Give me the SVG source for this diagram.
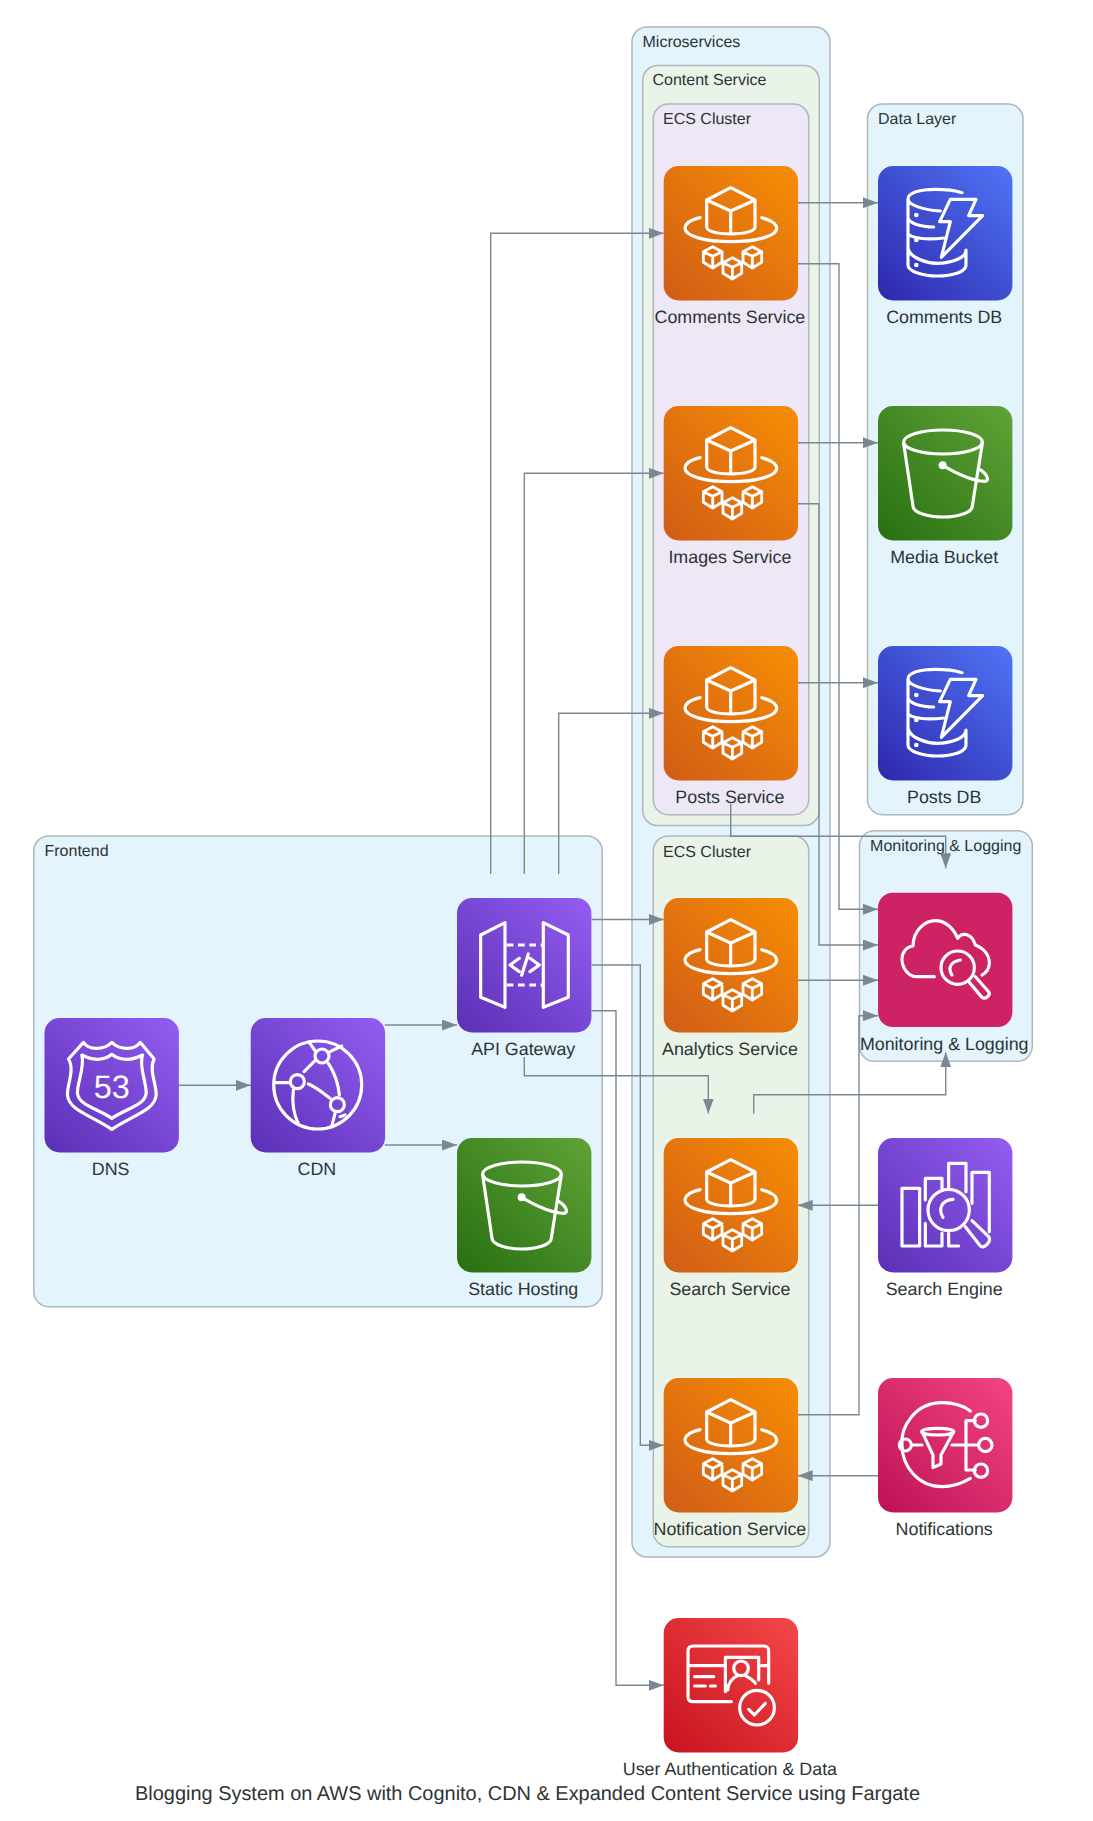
<svg xmlns="http://www.w3.org/2000/svg" width="1093" height="1821" viewBox="0 0 1093 1821">
<style>
text{font-family:"Liberation Sans",Arial,sans-serif;fill:#2D3436;text-rendering:geometricPrecision}
.cl{stroke:#AEB6BE;stroke-width:1.5}
.blue{fill:#E3F4FD}.green{fill:#E9F3E7}.lav{fill:#EDE7F6}
.cll{font-size:16px}
.nl{font-size:17.85px;text-anchor:middle}
.t{font-size:19.94px;text-anchor:middle}
.e{fill:none;stroke:#7B8894;stroke-width:1.4;marker-end:url(#a)}
.i{fill:none;stroke:#fff;stroke-width:9.5;stroke-linejoin:round;stroke-linecap:round}
.d{fill:#fff;stroke:none}
.n53{font-size:32.5px;text-anchor:middle;fill:#fff}
</style>
<defs>
<marker id="a" markerUnits="userSpaceOnUse" markerWidth="15" markerHeight="11" refX="15" refY="5.5" orient="auto"><path d="M0 0L15 5.5L0 11z" fill="#7B8894"/></marker>
<linearGradient id="g-orange" x1="0" y1="1" x2="1" y2="0"><stop offset="0" stop-color="#D05C17"/><stop offset="1" stop-color="#F78E04"/></linearGradient>
<linearGradient id="g-blue" x1="0" y1="1" x2="1" y2="0"><stop offset="0" stop-color="#2E27AD"/><stop offset="1" stop-color="#4F75F5"/></linearGradient>
<linearGradient id="g-green" x1="0" y1="1" x2="1" y2="0"><stop offset="0" stop-color="#277012"/><stop offset="1" stop-color="#60A337"/></linearGradient>
<linearGradient id="g-purple" x1="0" y1="1" x2="1" y2="0"><stop offset="0" stop-color="#5A30B5"/><stop offset="1" stop-color="#945DF2"/></linearGradient>
<linearGradient id="g-pink" x1="0" y1="1" x2="1" y2="0"><stop offset="0" stop-color="#BC1356"/><stop offset="1" stop-color="#F34482"/></linearGradient>
<linearGradient id="g-red" x1="0" y1="1" x2="1" y2="0"><stop offset="0" stop-color="#C7131F"/><stop offset="1" stop-color="#F54749"/></linearGradient>
<rect id="box" width="134.4" height="134.4" rx="15"/>
<g id="i-fargate" class="i" transform="scale(.3333) translate(-41,-48)">
<path d="M242 113L170 150V232Q175 250 242 252Q310 250 315 232V150ZM170 150L242 183L315 150M242 183V252"/>
<path d="M150 203C120 210 105 222 105 235C105 258 165 275 242 275C320 275 380 258 380 235C380 222 362 210 335 203"/>
<path stroke-width="8.5" d="M188 290L216 305V337L188 354L160 337V305ZM160 305L188 319L216 305M188 319V354"/>
<path stroke-width="8.5" d="M247 323L275 338V370L247 387L219 370V338ZM219 338L247 352L275 338M247 352V387"/>
<path stroke-width="8.5" d="M307 290L335 305V337L307 354L279 337V305ZM279 305L307 319L335 305M307 319V354"/>
</g>
<g id="i-dynamo" class="i" transform="scale(.3333) translate(-53,-48)">
<path d="M305 128C280 120 250 118 225 118C180 118 143 128 143 147C143 165 190 180 240 183M143 147V295M143 205C148 220 180 230 220 231M143 250C148 265 200 270 250 264M143 295V345C143 365 190 378 230 378C280 378 317 365 317 345V300M143 295C150 325 200 340 230 340C270 340 317 325 317 300"/>
<path d="M270 148H347L325 197H367L243 322L270 215H238Z"/>
<circle class="d" cx="168" cy="195" r="7"/><circle class="d" cx="168" cy="270" r="7"/><circle class="d" cx="168" cy="345" r="7"/>
</g>
<g id="i-bucket" class="i" transform="scale(.3333)">
<ellipse cx="195" cy="108" rx="118" ry="36"/>
<path d="M77 112L105 300C105 320 150 333 195 333C240 333 283 320 283 300L313 112"/>
<path d="M194 178C240 205 290 225 320 226C335 226 330 205 305 190"/>
<circle class="d" cx="194" cy="178" r="12"/>
</g>
<g id="i-monitor" class="i" transform="scale(.3333) translate(-53,-38)">
<path d="M222 290H170C145 290 125 265 125 238C125 215 140 200 158 198C158 150 195 122 225 122C255 122 280 145 292 175C305 155 335 160 345 195C370 205 387 225 387 250C387 265 378 278 365 285"/>
<circle cx="292" cy="263" r="50"/>
<path d="M275 285C262 265 270 245 300 240"/>
<path d="M327 307L365 352C375 360 392 345 385 335L345 290"/>
</g>
<g id="i-search" class="i" transform="scale(.3333) translate(-53,-54)">
<rect x="125" y="205" width="53" height="173"/>
<path d="M195 310V378H245V340M195 240V175H245V205M265 205V130H317V215M265 340V378H295M335 250V157H387V335"/>
<circle cx="265" cy="270" r="62"/>
<path d="M248 292C232 265 245 240 278 238"/>
<path d="M315 320L360 378C370 388 395 365 385 350L335 302"/>
</g>
<g id="i-sns" class="i" transform="scale(.3333) translate(-53,-24)">
<path d="M330 123C300 100 265 98 245 98C165 98 120 170 125 225C125 290 175 350 245 350C275 350 305 340 330 325"/>
<circle cx="135" cy="225" r="18"/>
<path d="M155 225H185M275 225H355M345 152H317V300H345"/>
<ellipse cx="232" cy="185" rx="48" ry="10"/>
<path d="M185 185L218 255V293L242 282V255L280 185"/>
<circle cx="362" cy="152" r="20"/><circle cx="375" cy="225" r="20"/><circle cx="362" cy="302" r="20"/>
</g>
<g id="i-cognito" class="i" transform="scale(.3333) translate(-40,-24)">
<path d="M243 275H130C118 275 113 268 113 260V122C113 112 120 108 130 108H340C350 108 355 115 355 122V220M113 167H220M333 167H355M133 200H190M133 228H165M180 228H195M225 245V142H325V210"/>
<circle cx="272" cy="175" r="22"/>
<path d="M232 240C235 210 255 200 262 197M285 197C300 205 310 212 315 220"/>
<circle cx="320" cy="293" r="52"/>
<path d="M295 298L312 315L345 280"/>
</g>
<g id="i-route53" class="i" transform="scale(.3333) translate(-43,-24)">
<path d="M115 147L160 97C175 120 220 122 245 97C270 122 315 120 330 97L372 147C355 180 380 225 378 255C375 300 310 315 245 358C180 315 115 300 112 255C110 225 135 180 115 147Z"/>
<path d="M155 135C190 155 225 150 245 133C265 150 300 155 337 135C325 170 350 220 348 250C345 285 290 295 245 325C200 295 145 285 142 250C140 220 165 170 155 135Z"/>
</g>
<g id="i-cdn" class="i" transform="scale(.3333) translate(-662,-24)">
<circle cx="863" cy="225" r="132"/>
<circle cx="876" cy="138" r="21"/><circle cx="802" cy="215" r="21"/><circle cx="922" cy="284" r="21"/>
<path d="M822 185L855 152M895 160C915 190 925 225 928 255M835 222C860 232 880 250 900 265M735 218H780M790 240C785 280 790 310 805 342M838 98L855 122M900 125L935 108M915 310L905 350M930 320L945 315"/>
</g>
<g id="i-api" class="i" transform="scale(.3333) translate(-21,-24)">
<path d="M165 98L92 135V322L165 352ZM280 98L355 135V322L280 352Z"/>
<path stroke-linecap="butt" stroke-dasharray="20 14" d="M170 165H278M170 285H278"/>
<path d="M208 205L180 225L208 245M240 205L268 225L240 245M235 192L215 256"/>
</g>
</defs>
<rect width="1093" height="1821" fill="#fff"/>
<g id="clusters">
<g id="cluster-microservices"><rect class="cl blue" x="632" y="27" width="198" height="1530" rx="15"/><text class="cll" x="642.5" y="46.7">Microservices</text></g>
<g id="cluster-content"><rect class="cl green" x="642.7" y="65.5" width="176.6" height="760" rx="15"/><text class="cll" x="652.5" y="85.3">Content Service</text></g>
<g id="cluster-ecs1"><rect class="cl lav" x="653.3" y="104" width="155.4" height="710.7" rx="15"/><text class="cll" x="663" y="124.3">ECS Cluster</text></g>
<g id="cluster-ecs2"><rect class="cl green" x="653.3" y="836" width="155.4" height="710.7" rx="15"/><text class="cll" x="663" y="856.7">ECS Cluster</text></g>
<g id="cluster-data"><rect class="cl blue" x="867.5" y="104" width="155.5" height="710.7" rx="15"/><text class="cll" x="878" y="124.3">Data Layer</text></g>
<g id="cluster-monitoring"><rect class="cl blue" x="859.5" y="830.8" width="172.8" height="230.5" rx="15"/><text class="cll" x="945.7" y="851.3" text-anchor="middle">Monitoring &amp; Logging</text></g>
<g id="cluster-frontend"><rect class="cl blue" x="33.8" y="836" width="568.4" height="470.7" rx="15"/><text class="cll" x="44.5" y="856">Frontend</text></g>
</g>
<g id="connectors">
<path class="e" d="M178.7 1085.3H250.7"/>
<path class="e" d="M384.7 1025H457"/>
<path class="e" d="M384.7 1145H457"/>
<path class="e" d="M490.7 874V233.3H663.7"/>
<path class="e" d="M524.3 874V473.3H663.7"/>
<path class="e" d="M558.7 874V713.3H663.7"/>
<path class="e" d="M591.5 919.5H663.7"/>
<path class="e" d="M591.5 965H640.3V1445.3H663.7"/>
<path class="e" d="M591.5 1010.7H616V1685.3H663.7"/>
<path class="e" d="M524.3 1057V1075.7H708.3V1113.5"/>
<path class="e" d="M797.7 202.7H878"/>
<path class="e" d="M797.7 442.7H878"/>
<path class="e" d="M797.7 682.7H878"/>
<path class="e" d="M797.7 263.7H839V909.3H878"/>
<path class="e" d="M797.7 503.7H819V945H878"/>
<path class="e" d="M730.7 804V836.3H945.7V868.3"/>
<path class="e" d="M797.7 980.3H878"/>
<path class="e" d="M753.7 1113.7V1094.7H945.7V1052.3"/>
<path class="e" d="M797.7 1414.7H859V1015.7H878"/>
<path class="e" d="M878 1205.3H797.7"/>
<path class="e" d="M878 1475.7H797.7"/>
</g>
<g id="dns" transform="translate(44.5,1018)"><use href="#box" fill="url(#g-purple)"/><use href="#i-route53"/><text class="n53" x="67.3" y="80.3">53</text><text class="nl" x="66.2" y="157">DNS</text></g>
<g id="cdn" transform="translate(250.7,1018)"><use href="#box" fill="url(#g-purple)"/><use href="#i-cdn"/><text class="nl" x="66.2" y="157">CDN</text></g>
<g id="api-gateway" transform="translate(457,898)"><use href="#box" fill="url(#g-purple)"/><use href="#i-api"/><text class="nl" x="66.2" y="157">API Gateway</text></g>
<g id="static-hosting" transform="translate(457,1138)"><use href="#box" fill="url(#g-green)"/><use href="#i-bucket"/><text class="nl" x="66.2" y="157">Static Hosting</text></g>
<g id="comments-service" transform="translate(663.7,166)"><use href="#box" fill="url(#g-orange)"/><use href="#i-fargate"/><text class="nl" x="66.2" y="157">Comments Service</text></g>
<g id="images-service" transform="translate(663.7,406)"><use href="#box" fill="url(#g-orange)"/><use href="#i-fargate"/><text class="nl" x="66.2" y="157">Images Service</text></g>
<g id="posts-service" transform="translate(663.7,646)"><use href="#box" fill="url(#g-orange)"/><use href="#i-fargate"/><text class="nl" x="66.2" y="157">Posts Service</text></g>
<g id="analytics-service" transform="translate(663.7,898)"><use href="#box" fill="url(#g-orange)"/><use href="#i-fargate"/><text class="nl" x="66.2" y="157">Analytics Service</text></g>
<g id="search-service" transform="translate(663.7,1138)"><use href="#box" fill="url(#g-orange)"/><use href="#i-fargate"/><text class="nl" x="66.2" y="157">Search Service</text></g>
<g id="notification-service" transform="translate(663.7,1378)"><use href="#box" fill="url(#g-orange)"/><use href="#i-fargate"/><text class="nl" x="66.2" y="157">Notification Service</text></g>
<g id="user-auth" transform="translate(663.7,1618)"><use href="#box" fill="url(#g-red)"/><use href="#i-cognito"/><text class="nl" x="66.2" y="157">User Authentication &amp; Data</text></g>
<g id="comments-db" transform="translate(878,166)"><use href="#box" fill="url(#g-blue)"/><use href="#i-dynamo"/><text class="nl" x="66.2" y="157">Comments DB</text></g>
<g id="media-bucket" transform="translate(878,406)"><use href="#box" fill="url(#g-green)"/><use href="#i-bucket"/><text class="nl" x="66.2" y="157">Media Bucket</text></g>
<g id="posts-db" transform="translate(878,646)"><use href="#box" fill="url(#g-blue)"/><use href="#i-dynamo"/><text class="nl" x="66.2" y="157">Posts DB</text></g>
<g id="monitoring" transform="translate(878,892.7)"><use href="#box" fill="#CD2264"/><use href="#i-monitor"/><text class="nl" x="66.2" y="157">Monitoring &amp; Logging</text></g>
<g id="search-engine" transform="translate(878,1138)"><use href="#box" fill="url(#g-purple)"/><use href="#i-search"/><text class="nl" x="66.2" y="157">Search Engine</text></g>
<g id="notifications" transform="translate(878,1378)"><use href="#box" fill="url(#g-pink)"/><use href="#i-sns"/><text class="nl" x="66.2" y="157">Notifications</text></g>
<text class="t" x="527.5" y="1800.3">Blogging System on AWS with Cognito, CDN &amp; Expanded Content Service using Fargate</text>
</svg>
